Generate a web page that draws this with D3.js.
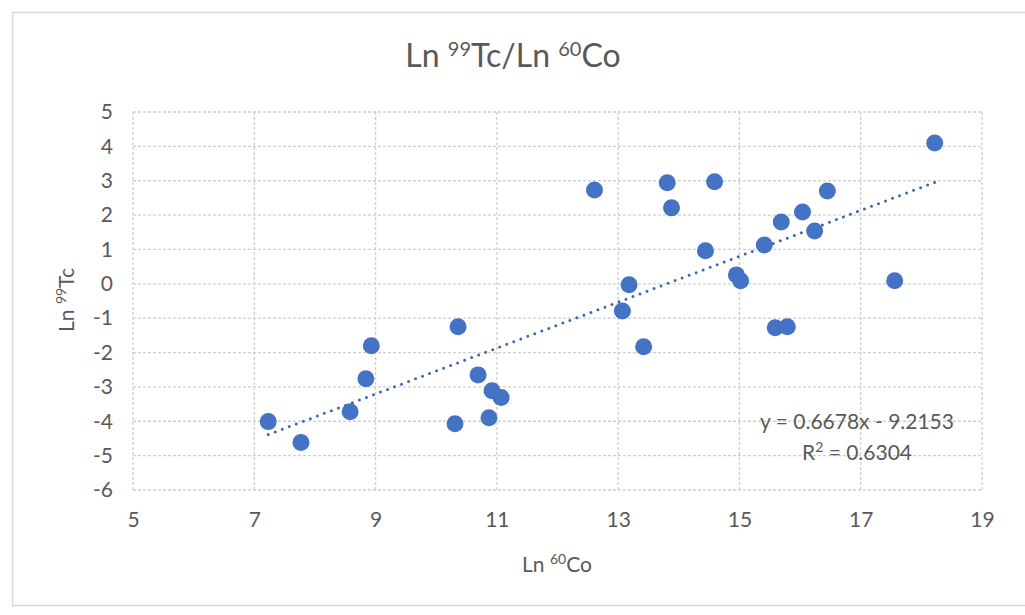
<!DOCTYPE html>
<html><head><meta charset="utf-8">
<script src="https://cdn.jsdelivr.net/npm/d3@7"></script>
<style>body{margin:0;background:#fff}svg{display:block}text{font-family:Lato,"Open Sans",sans-serif;fill:#595959}</style>
</head><body>
<svg id="c" width="1025" height="615"></svg>
<script>
const xVals = [7.23,7.77,8.58,8.84,8.93,10.31,10.36,10.69,10.87,10.92,11.07,12.61,13.07,13.18,13.42,13.81,13.88,14.44,14.59,14.95,15.02,15.41,15.59,15.79,15.69,16.04,16.24,16.45,17.56,18.22];
const yVals = [-4.01,-4.62,-3.72,-2.76,-1.80,-4.07,-1.25,-2.65,-3.90,-3.11,-3.31,2.73,-0.79,-0.03,-1.83,2.94,2.21,0.96,2.97,0.26,0.09,1.13,-1.28,-1.25,1.80,2.09,1.54,2.70,0.09,4.10];
const xTicks = [5,7,9,11,13,15,17,19];
const yTicks = [5,4,3,2,1,0,-1,-2,-3,-4,-5,-6];
const slope = 0.6678, intercept = -9.2153, r2 = 0.6304;

const svg = d3.select("#c");
svg.append("rect").attr("x",12.5).attr("y",12.5).attr("width",1025).attr("height",593)
  .attr("fill","#fff").attr("stroke","#d9d9d9").attr("stroke-width",1.5);

const L=133,R=982,T=112,B=490;
const x = d3.scaleLinear().domain([5,19]).range([L,R]);
const y = d3.scaleLinear().domain([-6,5]).range([B,T]);

const grid = svg.append("g");
grid.selectAll(".gy").data(yTicks).join("line")
  .attr("x1",L).attr("x2",R).attr("y1",d=>y(d)).attr("y2",d=>y(d))
  .attr("stroke","#cfcfcf").attr("stroke-width",1.3).attr("stroke-dasharray","3,2");
grid.selectAll(".gx").data(xTicks).join("line")
  .attr("y1",T).attr("y2",B).attr("x1",d=>x(d)).attr("x2",d=>x(d))
  .attr("stroke","#cfcfcf").attr("stroke-width",1.3).attr("stroke-dasharray","3,2");

const xAxis = svg.append("g").attr("transform",`translate(0,${B})`)
  .call(d3.axisBottom(x).tickValues(xTicks).tickSize(0).tickPadding(22));
const yAxis = svg.append("g").attr("transform",`translate(${L},0)`)
  .call(d3.axisLeft(y).tickValues(yTicks).tickSize(0).tickPadding(20).tickFormat(d3.format("d")));
[xAxis,yAxis].forEach(a=>{a.select(".domain").remove();a.selectAll("text").style("font-size","21px").attr("fill","#595959").style("font-family","Lato,'Open Sans',sans-serif");});
yAxis.selectAll("text").text(d=>d<0?"-"+Math.abs(d):d);

// trendline
const x0=d3.min(xVals), x1=d3.max(xVals);
svg.append("line").attr("x1",x(x0)).attr("y1",y(slope*x0+intercept))
  .attr("x2",x(x1)).attr("y2",y(slope*x1+intercept))
  .attr("stroke","#3f67b0").attr("stroke-width",3).attr("stroke-dasharray","0,7.5").attr("stroke-linecap","round");

svg.append("g").selectAll("circle").data(xVals.map((v,i)=>[v,yVals[i]])).join("circle")
  .attr("cx",d=>x(d[0])).attr("cy",d=>y(d[1])).attr("r",8.5).attr("fill","#4472c4");

// title
const t = svg.append("text").attr("x",513).attr("y",67).attr("text-anchor","middle").style("font-size","32px");
t.append("tspan").text("Ln ");
t.append("tspan").text("99").attr("dy",-11).style("font-size","20px");
t.append("tspan").text("Tc/Ln ").attr("dy",11);
t.append("tspan").text("60").attr("dy",-11).style("font-size","20px");
t.append("tspan").text("Co").attr("dy",11);

// x title
const xt = svg.append("text").attr("x",557).attr("y",572).attr("text-anchor","middle").style("font-size","21px");
xt.append("tspan").text("Ln ");
xt.append("tspan").text("60").attr("dy",-8).style("font-size","14px");
xt.append("tspan").text("Co").attr("dy",8);

// y title
const yt = svg.append("text").attr("transform","translate(74,300) rotate(-90)").attr("text-anchor","middle").style("font-size","21px");
yt.append("tspan").text("Ln ");
yt.append("tspan").text("99").attr("dy",-8).style("font-size","14px");
yt.append("tspan").text("Tc").attr("dy",8);

// equation
svg.append("text").attr("x",857).attr("y",429).attr("text-anchor","middle").style("font-size","21px")
  .text(`y = ${slope}x - ${Math.abs(intercept)}`);
const rt = svg.append("text").attr("x",857).attr("y",460).attr("text-anchor","middle").style("font-size","21px");
rt.append("tspan").text("R");
rt.append("tspan").text("2").attr("dy",-8).style("font-size","14px");
rt.append("tspan").text(` = ${r2}`).attr("dy",8);
</script>
</body></html>
